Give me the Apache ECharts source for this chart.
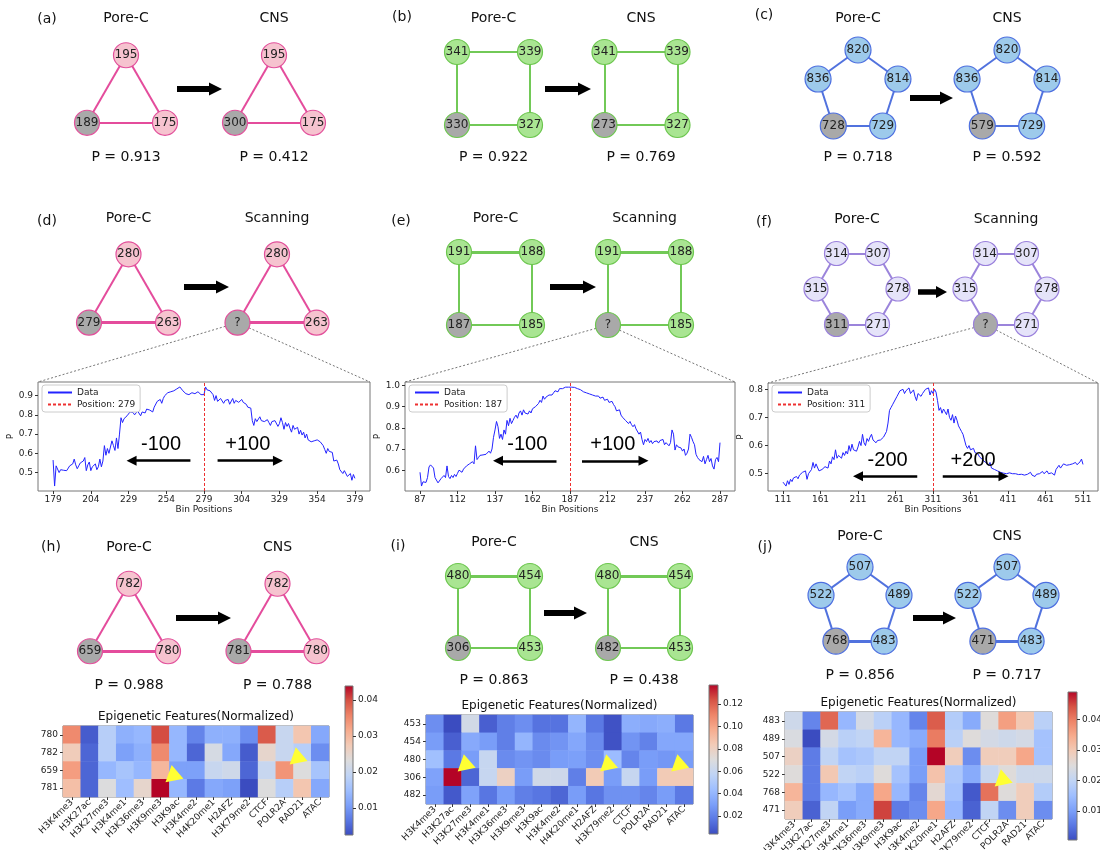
<!DOCTYPE html>
<html>
<head>
<meta charset="utf-8">
<script src="https://cdn.jsdelivr.net/npm/echarts@6/dist/echarts.min.js"></script>
<style>
  html, body { margin: 0; padding: 0; background: #fff; }
  #main { width: 1100px; height: 850px; }
</style>
</head>
<body>
<div id="main"></div>
<script>
// ---------- network node labels (order: see shape vertex order below) ----------
const netA_poreC = ['195', '189', '175'];
const netA_cns   = ['195', '300', '175'];
const netB_poreC = ['341', '339', '330', '327'];
const netB_cns   = ['341', '339', '273', '327'];
const netC_poreC = ['820', '836', '814', '728', '729'];
const netC_cns   = ['820', '836', '814', '579', '729'];
const netD_poreC = ['280', '279', '263'];
const netD_scan  = ['280', '?', '263'];
const netE_poreC = ['191', '188', '187', '185'];
const netE_scan  = ['191', '188', '?', '185'];
const netF_poreC = ['314', '307', '315', '278', '311', '271'];
const netF_scan  = ['314', '307', '315', '278', '?', '271'];
const netH_poreC = ['782', '659', '780'];
const netH_cns   = ['782', '781', '780'];
const netI_poreC = ['480', '454', '306', '453'];
const netI_cns   = ['480', '454', '482', '453'];
const netJ_poreC = ['507', '522', '489', '768', '483'];
const netJ_cns   = ['507', '522', '489', '471', '483'];

// ---------- probabilities ----------
const pA = [0.913, 0.412];
const pB = [0.922, 0.769];
const pC = [0.718, 0.592];
const pH = [0.988, 0.788];
const pI = [0.863, 0.438];
const pJ = [0.856, 0.717];

// ---------- scanning profiles ----------
const scanStartD = 179, scanStepD = 1, scanPosD = 279;
const scanD = [
  0.565, 0.430, 0.535, 0.545, 0.500, 0.515, 0.515, 0.512, 0.515, 0.510,
  0.520, 0.535, 0.528, 0.545, 0.570, 0.540, 0.520, 0.535, 0.550, 0.545,
  0.560, 0.578, 0.510, 0.540, 0.555, 0.510, 0.530, 0.525, 0.545, 0.515,
  0.530, 0.570, 0.530, 0.560, 0.640, 0.590, 0.625, 0.600, 0.605, 0.665,
  0.640, 0.615, 0.680, 0.625, 0.700, 0.785, 0.760, 0.780, 0.770, 0.795,
  0.800, 0.815, 0.805, 0.812, 0.800, 0.810, 0.820, 0.815, 0.795, 0.815,
  0.820, 0.810, 0.830, 0.820, 0.825, 0.835, 0.815, 0.840, 0.835, 0.870,
  0.865, 0.880, 0.860, 0.885, 0.900, 0.895, 0.915, 0.905, 0.920, 0.915,
  0.925, 0.920, 0.935, 0.930, 0.945, 0.935, 0.925, 0.935, 0.910, 0.900,
  0.905, 0.910, 0.915, 0.905, 0.910, 0.915, 0.920, 0.910, 0.905, 0.915,
  0.905, 0.945, 0.930, 0.920, 0.925, 0.915, 0.905, 0.875, 0.900, 0.870,
  0.880, 0.885, 0.880, 0.860, 0.875, 0.865, 0.880, 0.855, 0.845, 0.885,
  0.860, 0.875, 0.870, 0.865, 0.855, 0.880, 0.865, 0.860, 0.855, 0.840,
  0.850, 0.835, 0.770, 0.745, 0.780, 0.765, 0.775, 0.790, 0.770, 0.780,
  0.765, 0.760, 0.775, 0.760, 0.745, 0.765, 0.755, 0.770, 0.760, 0.740,
  0.755, 0.785, 0.760, 0.725, 0.760, 0.740, 0.755, 0.730, 0.710, 0.745,
  0.725, 0.715, 0.735, 0.700, 0.720, 0.695, 0.710, 0.680, 0.700, 0.670,
  0.680, 0.660, 0.650, 0.665, 0.655, 0.670, 0.675, 0.660, 0.655, 0.640,
  0.620, 0.600, 0.625, 0.610, 0.615, 0.605, 0.560, 0.555, 0.565, 0.545,
  0.515, 0.505, 0.495, 0.510, 0.500, 0.480, 0.470, 0.495, 0.460, 0.490,
  0.470
];
const scanStartE = 87, scanStepE = 1, scanPosE = 187;
const scanE = [
  0.590, 0.525, 0.545, 0.548, 0.542, 0.565, 0.615, 0.625, 0.620, 0.610,
  0.565, 0.560, 0.540, 0.548, 0.560, 0.555, 0.575, 0.565, 0.620, 0.570,
  0.560, 0.575, 0.565, 0.580, 0.570, 0.585, 0.600, 0.595, 0.590, 0.605,
  0.610, 0.620, 0.625, 0.630, 0.625, 0.640, 0.630, 0.715, 0.650, 0.660,
  0.670, 0.665, 0.672, 0.668, 0.675, 0.670, 0.690, 0.680, 0.700, 0.755,
  0.790, 0.830, 0.805, 0.750, 0.770, 0.745, 0.790, 0.770, 0.835, 0.810,
  0.845, 0.820, 0.835, 0.850, 0.860, 0.845, 0.870, 0.880, 0.860, 0.885,
  0.870, 0.875, 0.865, 0.880, 0.870, 0.890, 0.885, 0.900, 0.895, 0.915,
  0.930, 0.920, 0.950, 0.935, 0.945, 0.950, 0.955, 0.960, 0.955, 0.965,
  0.975, 0.980, 0.970, 0.985, 0.980, 0.985, 0.990, 0.992, 0.990, 0.992,
  0.993, 0.992, 0.990, 0.991, 0.988, 0.985, 0.982, 0.980, 0.975, 0.970,
  0.972, 0.965, 0.968, 0.960, 0.962, 0.955, 0.958, 0.950, 0.945, 0.950,
  0.940, 0.935, 0.945, 0.930, 0.925, 0.935, 0.920, 0.915, 0.925, 0.910,
  0.900, 0.880, 0.875, 0.885, 0.860, 0.850, 0.845, 0.835, 0.840, 0.820,
  0.830, 0.815, 0.805, 0.815, 0.795, 0.790, 0.770, 0.780, 0.745, 0.720,
  0.745, 0.735, 0.750, 0.730, 0.740, 0.725, 0.735, 0.730, 0.738, 0.728,
  0.740, 0.735, 0.745, 0.720, 0.730, 0.725, 0.715, 0.730, 0.790, 0.770,
  0.695, 0.720, 0.710, 0.715, 0.705, 0.690, 0.700, 0.670, 0.680, 0.700,
  0.770, 0.755, 0.735, 0.720, 0.675, 0.660, 0.650, 0.655, 0.640, 0.665,
  0.630, 0.650, 0.670, 0.640, 0.655, 0.620, 0.605, 0.650, 0.660, 0.640,
  0.730
];
const scanStartF = 111, scanStepF = 2, scanPosF = 311;
const scanF = [
  0.470, 0.468, 0.456, 0.475, 0.462, 0.480, 0.472, 0.485, 0.478, 0.490,
  0.482, 0.495, 0.488, 0.505, 0.498, 0.510, 0.480, 0.500, 0.495, 0.515,
  0.540, 0.520, 0.535, 0.540, 0.510, 0.505, 0.515, 0.520, 0.525, 0.530,
  0.520, 0.545, 0.535, 0.560, 0.550, 0.585, 0.555, 0.565, 0.560, 0.555,
  0.575, 0.565, 0.580, 0.570, 0.600, 0.580, 0.605, 0.585, 0.590, 0.580,
  0.595, 0.615, 0.600, 0.640, 0.610, 0.600, 0.625, 0.615, 0.630, 0.640,
  0.620, 0.615, 0.610, 0.618, 0.612, 0.620, 0.625, 0.630, 0.635, 0.650,
  0.680, 0.725, 0.735, 0.745, 0.755, 0.760, 0.775, 0.780, 0.795, 0.790,
  0.800, 0.785, 0.795, 0.790, 0.805, 0.785, 0.790, 0.798, 0.775, 0.760,
  0.785, 0.780, 0.775, 0.785, 0.790, 0.800, 0.795, 0.805, 0.780, 0.795,
  0.785, 0.800, 0.790, 0.760, 0.725, 0.735, 0.715, 0.730, 0.720, 0.710,
  0.730, 0.700, 0.690, 0.710, 0.680, 0.705, 0.690, 0.670, 0.660, 0.650,
  0.640, 0.620, 0.600, 0.590, 0.600, 0.585, 0.580, 0.590, 0.575, 0.575,
  0.570, 0.560, 0.565, 0.550, 0.545, 0.540, 0.545, 0.530, 0.540, 0.520,
  0.525, 0.515, 0.520, 0.510, 0.512, 0.505, 0.508, 0.502, 0.505, 0.500,
  0.500, 0.503, 0.498, 0.500, 0.495, 0.500, 0.502, 0.497, 0.500, 0.498,
  0.500, 0.495, 0.502, 0.498, 0.500, 0.505, 0.495, 0.500, 0.490, 0.498,
  0.502, 0.500, 0.505, 0.508, 0.500, 0.505, 0.510, 0.500, 0.505, 0.503,
  0.500, 0.495, 0.515, 0.520, 0.530, 0.520, 0.525, 0.535, 0.528, 0.530,
  0.525, 0.532, 0.528, 0.535, 0.530, 0.540, 0.532, 0.538, 0.542, 0.552,
  0.533
];
// tick labels of the scanning plots
const ticksXD = [179, 204, 229, 254, 279, 304, 329, 354, 379];
const ticksXE = [87, 112, 137, 162, 187, 212, 237, 262, 287];
const ticksXF = [111, 161, 211, 261, 311, 361, 411, 461, 511];
const ticksYD = [0.5, 0.6, 0.7, 0.8, 0.9];
const ticksYE = [0.6, 0.7, 0.8, 0.9, 1.0];
const ticksYF = [0.5, 0.6, 0.7, 0.8];
// scanning windows: [from, to] bins of each arrow, its height, and its caption
const arrowsD = [[270, 231], [288, 328]], arrowYD = 0.562, arrowTextD = ['-100', '+100'];
const arrowsE = [[178, 139], [195, 236]], arrowYE = 0.644, arrowTextE = ['-100', '+100'];
const arrowsF = [[290, 211], [324, 405]], arrowYF = 0.491, arrowTextF = ['-200', '+200'];

// ---------- epigenetic heatmaps ----------
const features = ['H3K4me3', 'H3K27ac', 'H3K27me3', 'H3K4me1', 'H3K36me3', 'H3K9me3', 'H3K9ac',
  'H3K4me2', 'H4K20me1', 'H2AFZ', 'H3K79me2', 'CTCF', 'POLR2A', 'RAD21', 'ATAC'];
const rowsH = ['780', '782', '659', '781'];
const heatH = [
  [0.035, 0.004, 0.018, 0.013, 0.014, 0.040, 0.014, 0.008, 0.013, 0.013, 0.009, 0.039, 0.020, 0.028, 0.012],
  [0.027, 0.005, 0.018, 0.011, 0.013, 0.035, 0.014, 0.005, 0.022, 0.012, 0.004, 0.025, 0.020, 0.018, 0.009],
  [0.033, 0.005, 0.014, 0.016, 0.014, 0.030, 0.011, 0.011, 0.020, 0.021, 0.005, 0.020, 0.034, 0.023, 0.016],
  [0.029, 0.005, 0.023, 0.015, 0.025, 0.0439, 0.014, 0.007, 0.012, 0.011, 0.0025, 0.023, 0.018, 0.028, 0.012]
];
const rowsI = ['453', '454', '480', '306', '482'];
const heatI = [
  [0.025, 0.004, 0.065, 0.010, 0.020, 0.025, 0.016, 0.016, 0.040, 0.018, 0.006, 0.037, 0.035, 0.037, 0.018],
  [0.030, 0.010, 0.035, 0.030, 0.020, 0.040, 0.024, 0.027, 0.034, 0.024, 0.006, 0.027, 0.021, 0.034, 0.034],
  [0.045, 0.018, 0.030, 0.060, 0.024, 0.027, 0.024, 0.030, 0.031, 0.025, 0.043, 0.022, 0.030, 0.028, 0.030],
  [0.032, 0.137, 0.012, 0.060, 0.080, 0.030, 0.064, 0.063, 0.020, 0.084, 0.030, 0.060, 0.030, 0.084, 0.084],
  [0.030, 0.008, 0.032, 0.017, 0.030, 0.020, 0.017, 0.012, 0.030, 0.017, 0.026, 0.026, 0.022, 0.030, 0.018]
];
const rowsJ = ['483', '489', '507', '522', '768', '471'];
const heatJ = [
  [0.022, 0.007, 0.042, 0.014, 0.023, 0.019, 0.014, 0.007, 0.043, 0.018, 0.012, 0.025, 0.036, 0.030, 0.019],
  [0.024, 0.0005, 0.023, 0.019, 0.020, 0.033, 0.014, 0.012, 0.040, 0.019, 0.025, 0.023, 0.022, 0.023, 0.016],
  [0.028, 0.006, 0.020, 0.016, 0.017, 0.020, 0.020, 0.010, 0.0489, 0.029, 0.008, 0.029, 0.029, 0.035, 0.016],
  [0.025, 0.006, 0.030, 0.020, 0.019, 0.025, 0.016, 0.010, 0.031, 0.017, 0.012, 0.021, 0.025, 0.022, 0.022],
  [0.033, 0.006, 0.014, 0.016, 0.012, 0.035, 0.014, 0.007, 0.026, 0.016, 0.002, 0.041, 0.025, 0.029, 0.018],
  [0.029, 0.003, 0.020, 0.010, 0.012, 0.045, 0.006, 0.008, 0.035, 0.014, 0.003, 0.020, 0.008, 0.029, 0.008]
];
const cbTicksH = [0.01, 0.02, 0.03, 0.04];
const cbTicksI = [0.02, 0.04, 0.06, 0.08, 0.10, 0.12];
const cbTicksJ = [0.01, 0.02, 0.03, 0.04];
// highlighted cells [feature, row]
const ptrH = [['H3K9me3', '781'], ['POLR2A', '659']];
const ptrI = [['H3K27ac', '306'], ['H2AFZ', '306'], ['RAD21', '306']];
const ptrJ = [['CTCF', '768']];

// ---------- styling ----------
const FONT = 'DejaVu Sans';
const GRAY = '#a9a9a9';
const PAL = {
  pink:  { fill: '#f6c3cf', border: '#e2509b', edge: '#e44c9c' },
  green: { fill: '#a9e592', border: '#6cc64e', edge: '#72c957' },
  blue:  { fill: '#9dcaeb', border: '#4d6fe0', edge: '#5172de' },
  lav:   { fill: '#e5e3f9', border: '#9a80dc', edge: '#9b84db' }
};
const COOLWARM = ['#3b4cc0', '#5977e3', '#7b9ff9', '#9ebeff', '#c0d4f5', '#dddcdc',
  '#f2cbb7', '#f7ac8e', '#ee8468', '#d65244', '#b40426'];
const EDGES = {
  tri:  [[0, 1], [1, 2], [2, 0]],
  sq:   [[0, 1], [1, 3], [3, 2], [2, 0]],
  pent: [[0, 1], [0, 2], [1, 3], [2, 4], [3, 4]],
  hex:  [[0, 1], [1, 3], [3, 5], [5, 4], [4, 2], [2, 0]]
};
const GRAY_NODE = { tri: 1, sq: 2, pent: 3, hex: 4 };

// vertex positions of a regular polygon drawn around (cx, cy)
function polyPoints(shape, cx, cy, s) {
  if (shape === 'tri') {
    const h = s * Math.sqrt(3) / 2;
    return [[cx, cy - h / 2], [cx - s / 2, cy + h / 2], [cx + s / 2, cy + h / 2]];
  }
  if (shape === 'sq') {
    return [[cx - s / 2, cy - s / 2], [cx + s / 2, cy - s / 2], [cx - s / 2, cy + s / 2], [cx + s / 2, cy + s / 2]];
  }
  const angles = shape === 'pent' ? [-90, -162, -18, 126, 54] : [-120, -60, 180, 0, 120, 60];
  return angles.map(a => [cx + s * Math.cos(a * Math.PI / 180), cy + s * Math.sin(a * Math.PI / 180)]);
}

function graphSeries(labels, shape, pts, nodeSize, pal, thick) {
  const xs = pts.map(p => p[0]), ys = pts.map(p => p[1]);
  const minX = Math.min(...xs), maxX = Math.max(...xs), minY = Math.min(...ys), maxY = Math.max(...ys);
  const g = GRAY_NODE[shape];
  return {
    type: 'graph', layout: 'none', silent: true, animation: false,
    left: minX, top: minY, width: maxX - minX, height: maxY - minY,
    symbol: 'circle', symbolSize: nodeSize,
    data: labels.map((t, i) => ({
      name: t, x: pts[i][0], y: pts[i][1],
      itemStyle: { color: i === g ? GRAY : pal.fill, borderColor: pal.border, borderWidth: 1.2 }
    })),
    links: EDGES[shape].map(([s, t], k) => ({ source: s, target: t, lineStyle: { width: k === thick ? 3 : 2 } })),
    lineStyle: { color: pal.edge, width: 2, opacity: 1, curveness: 0 },
    label: { show: true, position: 'inside', formatter: '{b}', fontFamily: FONT, fontSize: 12, color: '#222' },
    emphasis: { disabled: true }
  };
}

function bigArrow(x0, x1, y, shaft, headH, headL) {
  return {
    type: 'polygon', silent: true,
    shape: { points: [[x0, y - shaft / 2], [x1 - headL, y - shaft / 2], [x1 - headL, y - headH / 2], [x1, y],
      [x1 - headL, y + headH / 2], [x1 - headL, y + shaft / 2], [x0, y + shaft / 2]] },
    style: { fill: '#000' }
  };
}

function text(str, x, y, size, extra) {
  return Object.assign({
    type: 'text', x: x, y: y, silent: true,
    style: { text: str, fontSize: size, fontFamily: FONT, fill: '#111', align: 'center', verticalAlign: 'middle' }
  }, extra || {});
}

// ---------- layout of the network panels ----------
const scanGrids = [[38, 382, 332, 109], [405, 382, 330, 109], [768, 383, 330, 108]];
const panels = [
  { tag: '(a)', tagXY: [47, 19], heads: ['Pore-C', 'CNS'], headY: 18, shape: 'tri', size: 78, cx: [126, 274], cy: 89, node: 25, pal: 'pink', nets: [netA_poreC, netA_cns], thick: -1, arrow: [177, 222, 89, 6, 13, 13], pY: 157, p: pA },
  { tag: '(b)', tagXY: [402, 17], heads: ['Pore-C', 'CNS'], headY: 18, shape: 'sq', size: 73, cx: [493.5, 641], cy: 88.5, node: 25, pal: 'green', nets: [netB_poreC, netB_cns], thick: -1, arrow: [545, 591, 89, 6, 13, 13], pY: 157, p: pB },
  { tag: '(c)', tagXY: [764, 15], heads: ['Pore-C', 'CNS'], headY: 18, shape: 'pent', size: 42, cx: [858, 1007], cy: 92, node: 26, pal: 'blue', nets: [netC_poreC, netC_cns], thick: -1, arrow: [910, 953, 98, 6, 13, 13], pY: 157, p: pC },
  { tag: '(d)', tagXY: [47, 221], heads: ['Pore-C', 'Scanning'], headY: 218, shape: 'tri', size: 79, cx: [128.5, 277], cy: 288.5, node: 25, pal: 'pink', nets: [netD_poreC, netD_scan], thick: 1, arrow: [184, 229, 287, 6, 13, 13], scan: 0 },
  { tag: '(e)', tagXY: [401, 221], heads: ['Pore-C', 'Scanning'], headY: 218, shape: 'sq', size: 73, cx: [495.5, 644.5], cy: 288.5, node: 25, pal: 'green', nets: [netE_poreC, netE_scan], thick: 0, arrow: [550, 596, 287, 6, 13, 13], scan: 1 },
  { tag: '(f)', tagXY: [764, 222], heads: ['Pore-C', 'Scanning'], headY: 219, shape: 'hex', size: 41, cx: [857, 1006], cy: 289, node: 24, pal: 'lav', nets: [netF_poreC, netF_scan], thick: -1, arrow: [918, 947, 292, 5.5, 12, 11], scan: 2 },
  { tag: '(h)', tagXY: [51, 547], heads: ['Pore-C', 'CNS'], headY: 547, shape: 'tri', size: 78, cx: [129, 277.5], cy: 617.5, node: 25, pal: 'pink', nets: [netH_poreC, netH_cns], thick: 1, arrow: [176, 231, 618, 6, 13, 13], pY: 685, p: pH },
  { tag: '(i)', tagXY: [398, 546], heads: ['Pore-C', 'CNS'], headY: 542, shape: 'sq', size: 72, cx: [494, 644], cy: 612, node: 25, pal: 'green', nets: [netI_poreC, netI_cns], thick: 0, arrow: [544, 587, 613, 6, 13, 13], pY: 680, p: pI },
  { tag: '(j)', tagXY: [765, 547], heads: ['Pore-C', 'CNS'], headY: 536, shape: 'pent', size: 41, cx: [860, 1007], cy: 608, node: 26, pal: 'blue', nets: [netJ_poreC, netJ_cns], thick: 4, arrow: [913, 956, 618, 6, 13, 13], pY: 675, p: pJ }
];

const series = [];
const graphics = [];
const grids = [], xAxes = [], yAxes = [], legends = [], visualMaps = [];

panels.forEach(p => {
  graphics.push(text(p.tag, p.tagXY[0], p.tagXY[1], 14));
  const ptsList = [0, 1].map(k => polyPoints(p.shape, p.cx[k], p.cy, p.size));
  [0, 1].forEach(k => {
    series.push(graphSeries(p.nets[k], p.shape, ptsList[k], p.node, PAL[p.pal], p.thick));
    graphics.push(text(p.heads[k], p.cx[k], p.headY, 14));
    if (p.p) graphics.push(text('P = ' + p.p[k].toFixed(3), p.cx[k], p.pY, 14));
  });
  graphics.push(bigArrow.apply(null, p.arrow));
  if (p.scan !== undefined) {
    // dotted guides from the scanned node to the profile below
    const c = ptsList[1][GRAY_NODE[p.shape]];
    const g = scanGrids[p.scan];
    [[g[0], g[1]], [g[0] + g[2], g[1]]].forEach(t => {
      const dx = t[0] - c[0], dy = t[1] - c[1], len = Math.hypot(dx, dy), r = p.node / 2;
      graphics.push({
        type: 'line', silent: true,
        shape: { x1: c[0] + dx / len * r, y1: c[1] + dy / len * r, x2: t[0], y2: t[1] },
        style: { stroke: '#666', lineWidth: 0.9, lineDash: [2, 2] }
      });
    });
  }
});

// ---------- scanning profiles ----------
const scans = [
  { start: scanStartD, step: scanStepD, vals: scanD, pos: scanPosD, tx: ticksXD, ty: ticksYD, arrows: arrowsD, ay: arrowYD, at: arrowTextD, legendXY: [42, 385] },
  { start: scanStartE, step: scanStepE, vals: scanE, pos: scanPosE, tx: ticksXE, ty: ticksYE, arrows: arrowsE, ay: arrowYE, at: arrowTextE, legendXY: [409, 385] },
  { start: scanStartF, step: scanStepF, vals: scanF, pos: scanPosF, tx: ticksXF, ty: ticksYF, arrows: arrowsF, ay: arrowYF, at: arrowTextF, legendXY: [772, 385] }
];
const tickLabel = { fontSize: 9, fontFamily: FONT, color: '#222' };

scans.forEach((s, i) => {
  const g = scanGrids[i];
  const pts = s.vals.map((v, k) => [s.start + k * s.step, v]);
  const xLo = pts[0][0], xHi = pts[pts.length - 1][0];
  const yLo = Math.min(...s.vals), yHi = Math.max(...s.vals);
  const xPad = (xHi - xLo) * 0.05, yPad = (yHi - yLo) * 0.05;
  grids.push({ left: g[0], top: g[1], width: g[2], height: g[3], show: true, borderColor: '#777', borderWidth: 1, backgroundColor: 'transparent', outerBoundsMode: 'none' });
  xAxes.push({
    type: 'value', gridIndex: i, min: xLo - xPad, max: xHi + xPad,
    axisLine: { show: false }, splitLine: { show: false },
    axisTick: { show: true, length: 3, lineStyle: { color: '#333' }, customValues: s.tx },
    axisLabel: Object.assign({ customValues: s.tx, margin: 4 }, tickLabel),
    name: 'Bin Positions', nameLocation: 'middle', nameGap: 13,
    nameTextStyle: { fontSize: 9, fontFamily: FONT, color: '#222' }
  });
  yAxes.push({
    type: 'value', gridIndex: i, min: yLo - yPad, max: yHi + yPad,
    axisLine: { show: false }, splitLine: { show: false },
    axisTick: { show: true, length: 3, lineStyle: { color: '#333' }, customValues: s.ty },
    axisLabel: Object.assign({ customValues: s.ty, margin: 5, formatter: v => v.toFixed(1) }, tickLabel),
    name: 'P', nameLocation: 'middle', nameGap: 19, nameRotate: 90,
    nameTextStyle: { fontSize: 9, fontFamily: FONT, color: '#222' }
  });
  const posName = 'Position: ' + s.pos;
  series.push({
    name: 'Data', type: 'line', xAxisIndex: i, yAxisIndex: i, data: pts,
    symbol: 'none', showSymbol: false, silent: true, animation: false,
    color: '#2323ff', lineStyle: { color: '#2323ff', width: 1 },
    markLine: {
      silent: true, animation: false, symbol: ['none', 'triangle'], symbolSize: 10,
      lineStyle: { color: '#000', width: 2.5, type: 'solid' }, label: { show: false },
      emphasis: { disabled: true },
      data: s.arrows.map(a => [{ coord: [a[0], s.ay] }, { coord: [a[1], s.ay] }])
    },
    markPoint: {
      silent: true, animation: false,
      data: s.arrows.map((a, k) => ({
        coord: [(a[0] + a[1]) / 2, s.ay], symbol: 'circle', symbolSize: 1, symbolOffset: [0, -16],
        itemStyle: { color: 'rgba(0,0,0,0)' },
        label: { show: true, position: 'inside', formatter: s.at[k], fontSize: 20, fontFamily: 'Liberation Sans', color: '#000' }
      }))
    }
  });
  series.push({
    name: posName, type: 'line', xAxisIndex: i, yAxisIndex: i, data: [],
    symbol: 'none', silent: true, animation: false,
    color: '#ee3030', lineStyle: { color: '#ee3030', width: 1, type: [3, 2] },
    markLine: {
      silent: true, animation: false, symbol: ['none', 'none'], label: { show: false },
      lineStyle: { color: '#ee3030', width: 1, type: [3, 2] },
      emphasis: { disabled: true },
      data: [{ xAxis: s.pos }]
    }
  });
  legends.push({
    data: ['Data', posName], orient: 'vertical', left: s.legendXY[0], top: s.legendXY[1],
    itemGap: 3, itemWidth: 24, itemHeight: 8, padding: [3, 5],
    backgroundColor: '#fff', borderColor: '#ccc', borderWidth: 1, borderRadius: 3,
    itemStyle: { opacity: 0, borderWidth: 0 },
    textStyle: { fontSize: 9, fontFamily: FONT, color: '#222' },
    selectedMode: false
  });
});

// ---------- heatmaps and colour bars ----------
const heats = [
  { rows: rowsH, vals: heatH, ptr: ptrH, grid: [63, 726, 266, 71], bar: [345, 686, 8, 149], ticks: cbTicksH },
  { rows: rowsI, vals: heatI, ptr: ptrI, grid: [426, 715, 267, 89], bar: [709, 685, 9, 149], ticks: cbTicksI },
  { rows: rowsJ, vals: heatJ, ptr: ptrJ, grid: [785, 712, 267, 107], bar: [1068, 692, 9, 148], ticks: cbTicksJ }
];
const gradientStops = COOLWARM.map((c, k) => ({ offset: k / (COOLWARM.length - 1), color: c }));

heats.forEach((h, i) => {
  const gi = 3 + i, bi = 6 + i;
  const flat = h.vals.flat();
  const vmin = Math.min(...flat), vmax = Math.max(...flat);
  const g = h.grid, b = h.bar;
  grids[gi] = { left: g[0], top: g[1], width: g[2], height: g[3], show: true, borderColor: '#777', borderWidth: 1, backgroundColor: 'transparent', outerBoundsMode: 'none' };
  grids[bi] = {
    left: b[0], top: b[1], width: b[2], height: b[3], show: true, borderColor: '#777', borderWidth: 1, outerBoundsMode: 'none',
    backgroundColor: { type: 'linear', x: 0, y: 1, x2: 0, y2: 0, colorStops: gradientStops }
  };
  xAxes[gi] = {
    type: 'category', gridIndex: gi, data: features,
    axisLine: { show: false }, splitLine: { show: false },
    axisTick: { show: true, alignWithLabel: true, length: 3, lineStyle: { color: '#333' } },
    axisLabel: Object.assign({ interval: 0, rotate: 45, margin: 4 }, tickLabel)
  };
  yAxes[gi] = {
    type: 'category', gridIndex: gi, data: h.rows, inverse: true,
    axisLine: { show: false }, splitLine: { show: false },
    axisTick: { show: true, alignWithLabel: true, length: 3, lineStyle: { color: '#333' } },
    axisLabel: Object.assign({ interval: 0, margin: 5 }, tickLabel)
  };
  xAxes[bi] = { type: 'category', gridIndex: bi, data: [''], show: false };
  yAxes[bi] = {
    type: 'value', gridIndex: bi, position: 'right', min: vmin, max: vmax,
    axisLine: { show: false }, splitLine: { show: false },
    axisTick: { show: true, length: 3, lineStyle: { color: '#333' }, customValues: h.ticks },
    axisLabel: Object.assign({ customValues: h.ticks, margin: 5, formatter: v => v.toFixed(2) }, tickLabel)
  };
  const data = [];
  h.vals.forEach((row, r) => row.forEach((v, c) => data.push([c, r, v])));
  visualMaps.push({
    type: 'continuous', show: false, seriesIndex: series.length, min: vmin, max: vmax,
    inRange: { color: COOLWARM }
  });
  series.push({
    type: 'heatmap', xAxisIndex: gi, yAxisIndex: gi, data: data,
    silent: true, animation: false, emphasis: { disabled: true },
    itemStyle: { borderWidth: 0 },
    markPoint: {
      silent: true, animation: false,
      data: h.ptr.map(q => ({
        coord: [q[0], q[1]], symbol: 'triangle', symbolSize: [18, 16], symbolRotate: 131, symbolOffset: [11, -11],
        itemStyle: { color: '#ffff33' }, label: { show: false }
      }))
    }
  });
  graphics.push(text('Epigenetic Features(Normalized)', g[0] + g[2] / 2, g[1] - 9, 12));
});

const chart = echarts.init(document.getElementById('main'), null, { renderer: 'canvas' });
chart.setOption({
  animation: false,
  backgroundColor: '#fff',
  textStyle: { fontFamily: FONT },
  grid: grids,
  xAxis: xAxes,
  yAxis: yAxes,
  legend: legends,
  visualMap: visualMaps,
  series: series,
  graphic: { elements: graphics }
});
</script>
</body>
</html>
